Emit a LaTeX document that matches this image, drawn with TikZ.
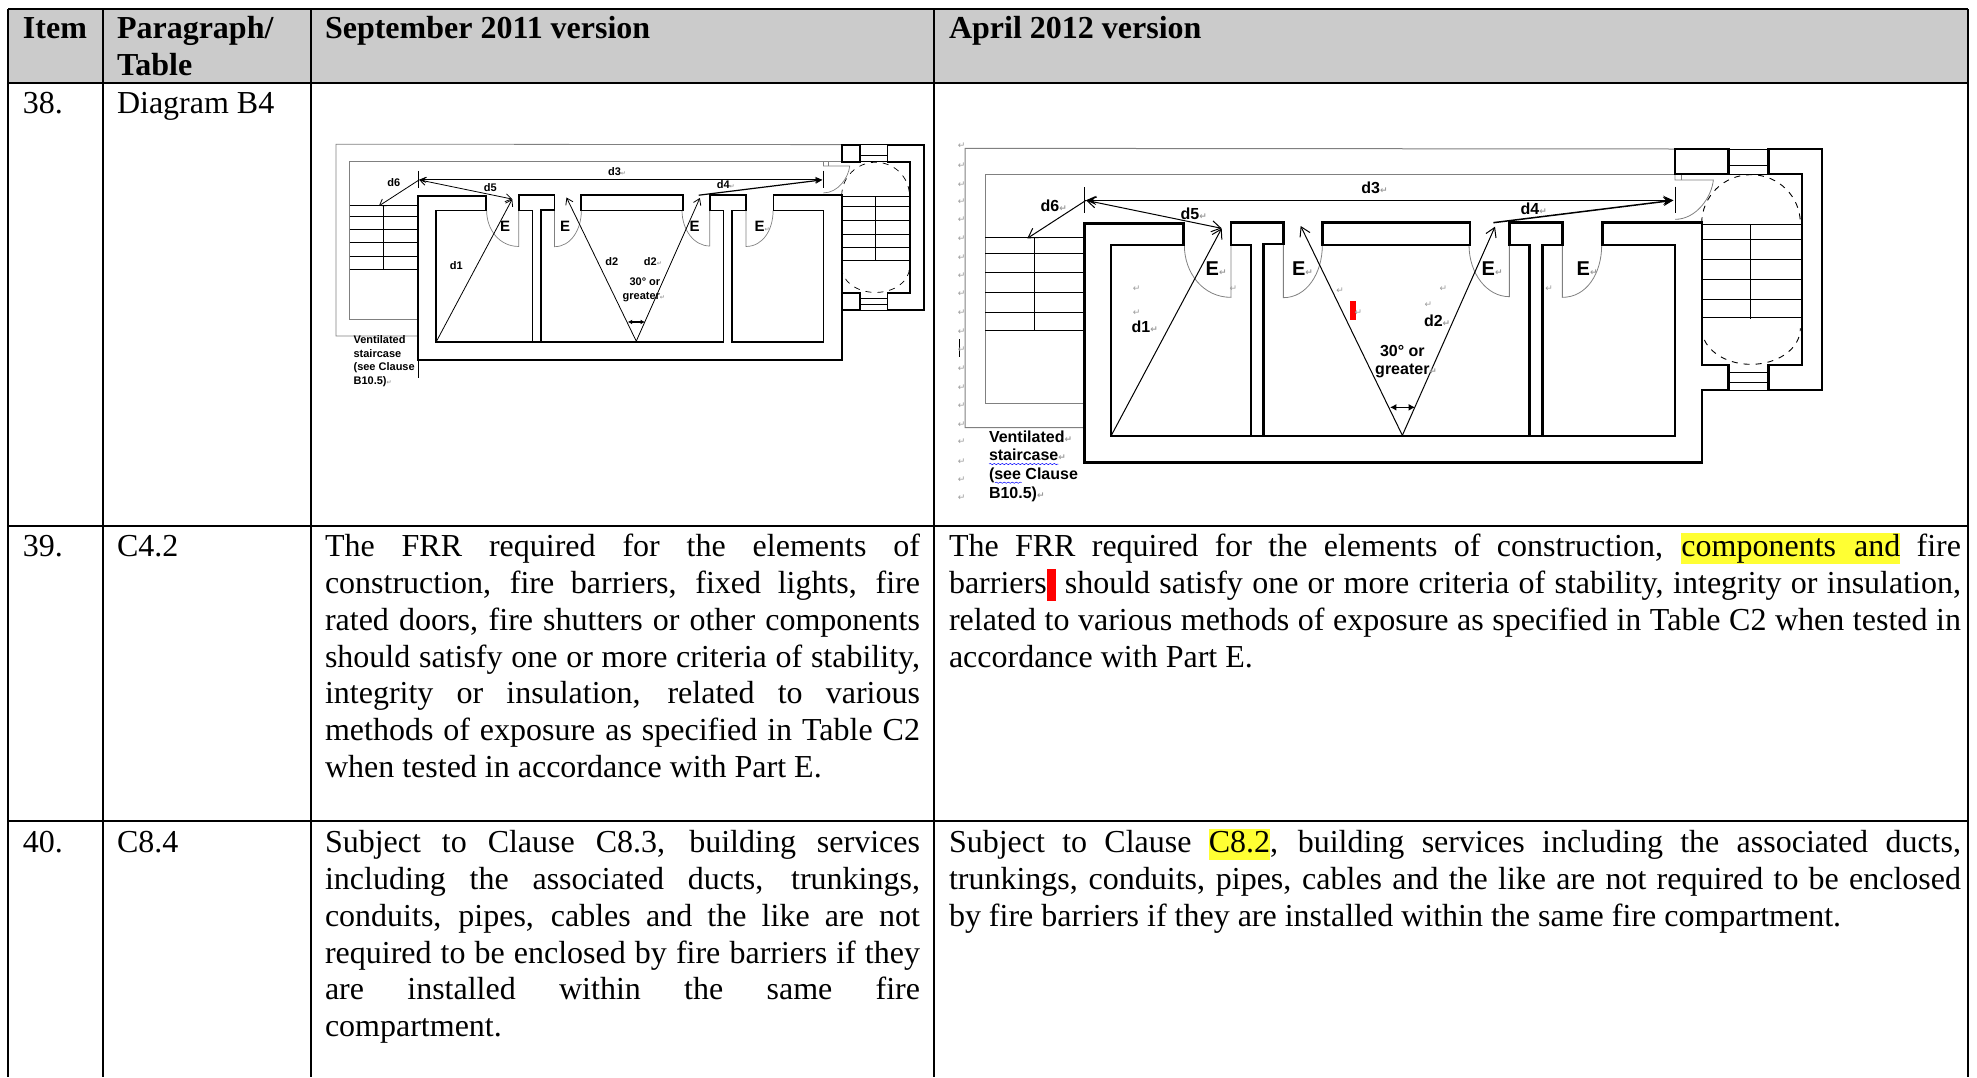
\documentclass[tikz,border=0pt]{standalone}
\usepackage{fontspec}
\setmainfont{Liberation Serif}
\newfontfamily\labelfont{Liberation Sans}
\newfontfamily\markfont{DejaVu Sans}
\usepackage{xcolor}
\definecolor{headgray}{HTML}{CBCBCB}
\definecolor{markyellow}{HTML}{FFFF33}
\definecolor{retgray}{HTML}{9A9A9A}
\definecolor{framegray}{HTML}{808080}
\usetikzlibrary{positioning}
\usetikzlibrary{arrows.meta}
\usetikzlibrary{decorations.pathmorphing}
\newcommand{\retmark}[1][4.5]{\rlap{\textcolor{retgray}{\markfont\fontsize{#1}{#1}\selectfont ↵}}}
\newcommand{\hlmark}[1]{{\setlength{\fboxsep}{0pt}\colorbox{markyellow}{\rule[-3.6pt]{0pt}{15.7pt}#1}}}
\newcommand{\floorplan}[1]{
	% frames round the ventilated staircase
	\draw[frameline] (#1,57) -- (45,55) -- (45,893) -- (403,893);
	\draw[frameline] (#1,132) -- (105,132) -- (105,820) -- (403,820);
	% stairs
	\foreach \v in {323,370,428,486,547,601}
		\draw[stairline] (105,\v) -- (403,\v);
	\draw[stairline] (253,323) -- (253,601);
	\foreach \v in {283,328,388,448,508,563}
		\draw[stairline] (2255,\v) -- (2552,\v);
	\draw[stairline] (2400,283) -- (2400,567);
	\foreach \v in {57,105,132,728,757,780}
		\draw[stairline] (2335,\v) -- (2455,\v);
	% dashed turning circle
	\draw[stairline,dashed] (2255,280) arc[start angle=180,end angle=360,x radius=148,y radius=146];
	\draw[stairline,dashed] (2255,595) arc[start angle=180,end angle=0,x radius=148,y radius=108];
	% doors
	\draw[doorline] (843,345) -- (843,502) .. controls (760,502) and (703,430) .. (703,345);
	\draw[doorline] (1000,345) -- (1000,503) .. controls (1070,503) and (1117,430) .. (1117,345);
	\draw[doorline] (1678,345) -- (1678,500) .. controls (1610,500) and (1557,430) .. (1557,345);
	\draw[doorline] (1837,345) -- (1837,502) .. controls (1910,502) and (1955,430) .. (1955,345);
	\draw[doorline] (2175,132) -- (2175,150) -- (2290,150) .. controls (2285,200) and (2240,268) .. (2175,268);
	\draw[doorline] (2195,132) -- (2195,150);
	% walls
	\draw[wall] (403,280) -- (700,280) -- (700,345) -- (483,345) -- (483,918) -- (903,918) -- (903,345)
		-- (843,345) -- (843,278) -- (1000,278) -- (1000,342) -- (940,342) -- (940,918) -- (1738,918)
		-- (1738,345) -- (1678,345) -- (1678,278) -- (1837,278) -- (1837,345) -- (1777,345) -- (1777,918)
		-- (2175,918) -- (2175,345) -- (1957,345) -- (1957,278) -- (2255,278) -- (2255,705) -- (2335,705)
		-- (2335,780) -- (2255,780) -- (2255,998) -- (403,998) -- cycle;
	\draw[wall] (903,918) -- (940,918);
	\draw[wall] (1117,278) rectangle (1560,345);
	\draw[wall] (#1,57) rectangle (2335,132);
	\draw[wall] (2455,132) -- (2455,57) -- (2615,57) -- (2615,780) -- (2455,780) -- (2455,705) -- (2555,705) -- (2555,132) -- cycle;
	% travel distances
	\draw[stairline] (403,172) -- (403,248);
	\draw[stairline] (2175,170) -- (2175,248);
	\coordinate (dstart) at (408,211);
	\coordinate (dend) at (2170,211);
	\coordinate (stairtop) at (232,325);
	\coordinate (roomone) at (483,918);
	\coordinate (doorone) at (815,295);
	\coordinate (roomtwo) at (1357,916);
	\coordinate (doortwo) at (1052,288);
	\coordinate (doorthree) at (1635,290);
	\coordinate (doorfoot) at (1630,278);
	\coordinate (anglel) at (1320,832);
	\coordinate (angler) at (1395,832);
	\path[travel]
		(roomone) edge[->] (doorone)
		(roomtwo) edge[->] (doortwo)
		(roomtwo) edge[->] (doorthree)
		(dstart) edge[<->] (doorone)
		(dstart) edge[->] (stairtop);
	\path[mainrun]
		(dstart) edge[<->] (dend)
		(doorfoot) edge[->] (dend);
	\path[anglerun]
		(anglel) edge[<->] (angler);
}
\tikzset{
	celltext/.style={anchor=north west,inner sep=0,outer sep=0,font=\fontsize{16}{18.4}\selectfont},
	headtext/.style={celltext,font=\fontsize{16}{18.4}\selectfont\bfseries},
	bodytext/.style={celltext,align=justify},
	tableline/.style={line width=0.95pt},
	planlabel/.style={inner sep=0,outer sep=0,font=\labelfont\bfseries\fontsize{#1}{#1}\selectfont},
	planlabel/.default=8
}
\begin{document}
\begin{tikzpicture}[x=0.5pt,y=-0.5pt]
	\useasboundingbox (0,0) rectangle (1977,1077);
	\fill[headgray] (8,9) rectangle (1968,83);
	% table rules
	\foreach \x in {8,103,311,934,1968}
		\draw[tableline] (\x,9) -- (\x,1077);
	\foreach \y in {9,83,526,821}
		\draw[tableline] (8,\y) -- (1968,\y);
	% header
	\node (item) [headtext] at (23,13) {\strut Item};
	\node (para) [headtext,align=left] at (117,13) {\strut Paragraph/\\Table};
	\node (sept) [headtext] at (325,13) {\strut September 2011 version};
	\node (april) [headtext] at (949,13) {\strut April 2012 version};
	% item numbers
	\node (nthirtyeight) [celltext] at (23,88) {\strut 38.};
	\node (diagram) [celltext] at (117,88) {\strut Diagram B4};
	\node (nthirtynine) [celltext] at (23,531) {\strut 39.};
	\node (cfour) [celltext] at (117,531) {\strut C4.2};
	\node (nforty) [celltext] at (23,827) {\strut 40.};
	\node (ceight) [celltext] at (117,827) {\strut C8.4};
	% row 39
	\node (oldfrr) [bodytext,text width=297.5pt] at (325,531) {\strut The FRR required for the elements of\linebreak
		construction, fire barriers, fixed lights, fire\linebreak
		rated doors, fire shutters or other components\linebreak
		should satisfy one or more criteria of stability,\linebreak
		integrity or insulation, related to various\linebreak
		methods of exposure as specified in Table C2\linebreak
		when tested in accordance with Part E.};
	\node (newfrr) [bodytext,text width=506pt] at (949,531) {\strut The FRR required for the elements of construction, \hlmark{components\hspace{9pt}and} fire\linebreak
		barriers\textcolor{red}{\rule[-3.6pt]{4.4pt}{15.7pt}} should satisfy one or more criteria of stability, integrity or insulation,\linebreak
		related to various methods of exposure as specified in Table C2 when tested in\linebreak
		accordance with Part E.};
	% row 40
	\node (oldsubj) [bodytext,text width=297.5pt] at (325,827) {\strut Subject to Clause C8.3, building services\linebreak
		including the associated ducts, trunkings,\linebreak
		conduits, pipes, cables and the like are not\linebreak
		required to be enclosed by fire barriers if they\linebreak
		are installed within the same fire\linebreak
		compartment.};
	\node (newsubj) [bodytext,text width=506pt] at (949,827) {\strut Subject to Clause \hlmark{C8.2}, building services including the associated ducts,\linebreak
		trunkings, conduits, pipes, cables and the like are not required to be enclosed\linebreak
		by fire barriers if they are installed within the same fire compartment.};
	% September 2011 plan
	\begin{scope}[shift={(325.8,131.6)},x=0.1144pt,y=-0.1144pt,
		wall/.style={line width=0.9pt},
		frameline/.style={line width=0.4pt,framegray},
		stairline/.style={line width=0.35pt},
		doorline/.style={line width=0.35pt,framegray},
		travel/.style={line width=0.4pt,>={Straight Barb[length=3pt,width=4pt]}},
		mainrun/.style={line width=0.6pt,>={Stealth[length=3.5pt,width=3pt]}},
		anglerun/.style={line width=0.6pt,>={Latex[length=2.2pt,width=2.4pt]}}]
		\floorplan{2255}
		\draw[wall] (2255,705) -- (2255,780);
		\draw[stairline] (403,998) -- (403,1077);
	\end{scope}
	\node (oldthree) [planlabel=5.5] at (614.5,171.7) {d3\retmark[3]};
	\node (oldsix) [planlabel=5.5] at (393.9,182.3) {d6};
	\node (oldfive) [planlabel=5.5] at (490.4,188) {d5};
	\node (oldfour) [planlabel=5.5] at (723.2,184.3) {d4\retmark[3]};
	\node (olde) [planlabel=7.5] at (505,226.3) {E};
	\node (oldf) [planlabel=7.5] at (565,226.3) {E};
	\node (oldg) [planlabel=7.5] at (694.7,226.3) {E};
	\node (oldh) [planlabel=7.5] at (759.5,226.3) {E\retmark[3]};
	\node (oldone) [planlabel=5.5] at (456.4,266) {d1};
	\node (oldtwo) [planlabel=5.5] at (611.7,261.7) {d2};
	\node (oldtwob) [planlabel=5.5] at (650.4,261.7) {d2\retmark[3]};
	\node (oldangle) [planlabel=5.5] at (644.9,281.7) {30° or};
	\node (oldgreater) [planlabel=5.5] at (641.3,296.7) {greater\retmark[3]};
	\node (oldvent) [planlabel=5.5,anchor=north west,align=left,font=\labelfont\bfseries\fontsize{5.5}{6.7}\selectfont] at (353.6,336) {Ventilated\\staircase\\(see Clause\\B10.5)\retmark[3]};
	% April 2012 plan
	\begin{scope}[shift={(950,130)},x=0.16667pt,y=-0.16667pt,
		wall/.style={line width=1.2pt},
		frameline/.style={line width=0.5pt,framegray},
		stairline/.style={line width=0.45pt},
		doorline/.style={line width=0.4pt,framegray},
		travel/.style={line width=0.5pt,>={Straight Barb[length=4.5pt,width=5.5pt]}},
		mainrun/.style={line width=0.75pt,>={Stealth[length=5pt,width=4.5pt]}},
		anglerun/.style={line width=0.8pt,>={Latex[length=3.2pt,width=3.5pt]}}]
		\floorplan{2175}
		\draw[wall] (1738,918) -- (1777,918);
		\draw[stairline] (27,628) -- (27,680);
		\fill[red] (1201,513) rectangle (1218,571);
		\foreach \v in {48,108,163,216,268,326,382,436,491,549,604,659,715,773,828,883,936,994,1049,1104}
			\node[inner sep=0,retgray,font=\markfont\fontsize{4.5}{4.5}\selectfont] at (35,\v) {↵};
		\foreach \u/\v in {560/475,560/547,850/475,1170/483,1225/547,1480/475,1435/525,1797/475}
			\node[inner sep=0,retgray,font=\markfont\fontsize{4.5}{4.5}\selectfont] at (\u,\v) {↵};
		\node (newthree) [planlabel] at (1262,173) {d3\retmark};
		\node (newsix) [planlabel] at (300,226) {d6\retmark};
		\node (newfive) [planlabel] at (720,252) {d5\retmark};
		\node (newfour) [planlabel] at (1740,235) {d4\retmark};
		\node (newe) [planlabel=10] at (787,417) {E\retmark};
		\node (newf) [planlabel=10] at (1046,417) {E\retmark};
		\node (newg) [planlabel=10] at (1615,417) {E\retmark};
		\node (newh) [planlabel=10] at (1900,417) {E\retmark};
		\node (newone) [planlabel] at (573,590) {d1\retmark};
		\node (newtwo) [planlabel] at (1450,573) {d2\retmark};
		\node (newangle) [planlabel] at (1357,662) {30° or};
		\node (newgreater) [planlabel] at (1357,724) {greater\retmark};
		\node (newvent) [planlabel,anchor=north west,align=left,font=\labelfont\bfseries\fontsize{8}{9.3}\selectfont] at (117,902) {Ventilated\retmark\\staircase\retmark\\(see Clause\\B10.5)\retmark};
		\draw[blue,line width=0.25pt,decorate,decoration={snake,amplitude=0.3pt,segment length=2pt}] (117,1002) -- (325,1002);
		\draw[blue,line width=0.25pt,decorate,decoration={snake,amplitude=0.3pt,segment length=2pt}] (135,1058) -- (215,1058);
	\end{scope}
\end{tikzpicture}
\end{document}
